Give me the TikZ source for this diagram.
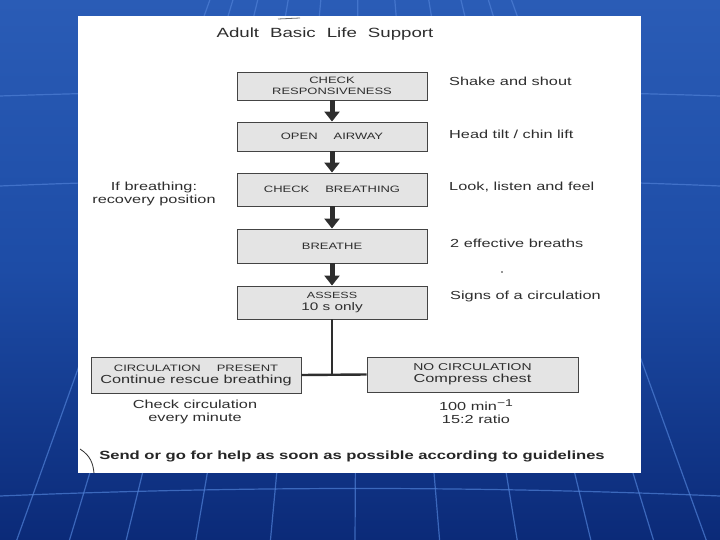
\documentclass[tikz,border=0pt]{standalone}
\usepackage{fontspec}
\setmainfont{Liberation Sans}
\newfontfamily\wf[FakeStretch=1.4]{Liberation Sans}
\usetikzlibrary{arrows.meta,calc}
\definecolor{bgtop}{HTML}{2A5CB6}
\definecolor{bgmid}{HTML}{1D4CA6}
\definecolor{bgbot}{HTML}{0B2A78}
\definecolor{gridline}{HTML}{4F80D6}
\definecolor{boxfill}{HTML}{E4E4E4}
\definecolor{boxline}{HTML}{444444}
\definecolor{ink}{HTML}{2E2E2E}
\tikzset{
  stepbox/.style={draw=boxline, fill=boxfill, line width=0.9bp, inner sep=0pt, align=center, text=ink},
  uc/.style={font=\wf\fontsize{9.3}{11.5}\selectfont},
  lab/.style={font=\wf\fontsize{11.7}{12.5}\selectfont, text=ink, inner sep=0pt, align=center},
  arr/.style={draw=ink, line width=5bp, -{Triangle[width=15bp,length=10bp]}, shorten >=0pt},
  link/.style={draw=ink, line width=2.4bp},
  globe/.style={draw=gridline, line width=1.2bp, opacity=0.7}
}
\begin{document}
\begin{tikzpicture}[x=1bp,y=-1bp]
\useasboundingbox (0,0) rectangle (720,540);
% background
\shade[top color=bgtop, bottom color=bgbot, middle color=bgmid] (0,0) rectangle (720,540);
\begin{scope}
\clip (0,0) rectangle (720,540);
\foreach \xb in {15,68,125,195,270,355,440,518,592,655,708}
  \draw[globe] (\xb,545) -- ($(\xb,545)!0.75!(360,-420)$);
\draw[globe] (0,186) .. controls (240,176) and (480,176) .. (720,186);
\draw[globe] (0,96) .. controls (240,88) and (480,88) .. (720,96);
\draw[globe] (0,496) .. controls (240,486) and (480,486) .. (720,496);
\end{scope}
% page
\fill[white] (78,16) rectangle (641,473);
\draw[ink!70, line width=0.8bp] (278,19) -- (300,18);
\draw[ink, line width=0.8bp] (80,449) .. controls (91,456) and (93,464) .. (94,473);
\fill[ink] (502,272) circle (0.9bp);
% title
\node[lab, font=\wf\fontsize{13.4}{14}\selectfont] (title) at (325,34.5) {Adult\hspace{11bp}Basic\hspace{11bp}Life\hspace{11bp}Support};
% boxes
\node[stepbox, uc, minimum width=190bp, minimum height=28bp] (b1) at (332,86) {CHECK\\RESPONSIVENESS};
\node[stepbox, uc, minimum width=190bp, minimum height=29bp] (b2) at (332,136.5) {OPEN\hspace{16bp}AIRWAY};
\node[stepbox, uc, minimum width=190bp, minimum height=33bp] (b3) at (332,189.5) {CHECK\hspace{16bp}BREATHING};
\node[stepbox, uc, minimum width=190bp, minimum height=34bp] (b4) at (332,246) {BREATHE};
\node[stepbox, minimum width=190bp, minimum height=33bp] (b5) at (332,302.5) {{\wf\fontsize{9}{12.5}\selectfont ASSESS}\\{\wf\fontsize{11}{12.5}\selectfont 10 s only}};
\node[stepbox, minimum width=210bp, minimum height=36bp] (b6) at (196,375) {{\wf\fontsize{9.3}{13.7}\selectfont CIRCULATION\hspace{16bp}PRESENT}\\{\wf\fontsize{11.7}{13.7}\selectfont Continue rescue breathing}};
\node[stepbox, minimum width=211bp, minimum height=35bp] (b7) at (472.5,374.5) {{\wf\fontsize{10}{13.4}\selectfont NO CIRCULATION}\\{\wf\fontsize{11.7}{13.4}\selectfont Compress chest}};
% connectors
\draw[arr] (b1.south) -- (b2.north);
\draw[arr] (b2.south) -- (b3.north);
\draw[arr] (b3.south) -- (b4.north);
\draw[arr] (b4.south) -- (b5.north);
\coordinate (j) at (b5.south |- b6.east);
\draw[link] (b5.south) -- (j);
\draw[link] (b6.east) -- (b7.west);
% side labels
\node[lab, anchor=west] (r1) at (449,81) {Shake and shout};
\node[lab, anchor=west] (r2) at (449,134) {Head tilt / chin lift};
\node[lab, anchor=west] (r3) at (449,187) {Look, listen and feel};
\node[lab, anchor=west] (r4) at (450,243) {2 effective breaths};
\node[lab, anchor=west] (r5) at (450,296.5) {Signs of a circulation};
\node[lab] (l1) at (154,194) {If breathing:\\recovery position};
\node[lab] (c1) at (195,412) {Check circulation\\every minute};
\node[lab] (c2) at (476,411.5) {100 min\raisebox{4.5bp}{\fontsize{10}{10}\selectfont −1}\\15:2 ratio};
\node[lab, font=\wf\bfseries\fontsize{11.9}{13}\selectfont, text=black!85] (foot) at (352,456) {Send or go for help as soon as possible according to guidelines};
\end{tikzpicture}
\end{document}
